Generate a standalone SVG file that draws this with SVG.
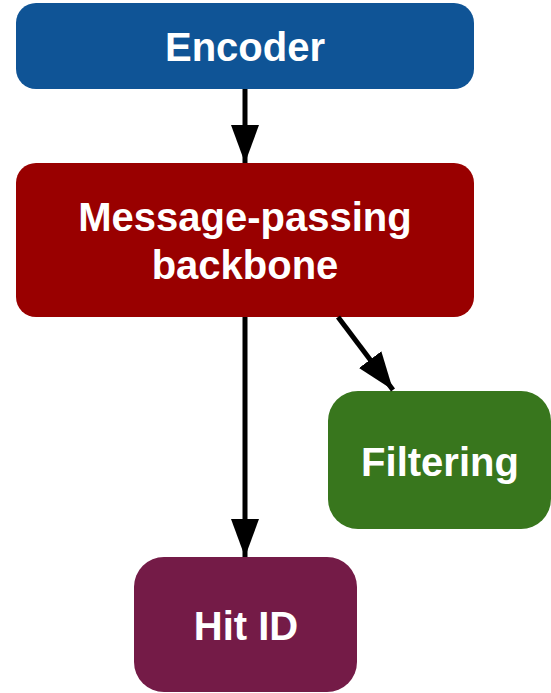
<svg xmlns="http://www.w3.org/2000/svg" width="551" height="693" viewBox="0 0 551 693">
  <style>
    .label { font-family: "Liberation Sans", Arial, sans-serif; font-weight: bold; font-size: 40px; fill: #ffffff; text-anchor: middle; }
    .edge { stroke: #000000; stroke-width: 5; fill: none; }
  </style>
  <defs>
    <marker id="head" viewBox="0 0 38 28" refX="38" refY="14" markerWidth="38" markerHeight="28" markerUnits="userSpaceOnUse" orient="auto">
      <path d="M0,0 L38,14 L0,28 Z" fill="#000000"/>
    </marker>
  </defs>

  <g id="encoder">
    <rect x="16" y="3" width="458" height="86" rx="20" fill="#0f5496"/>
    <text class="label" x="245" y="61">Encoder</text>
  </g>

  <g id="backbone">
    <rect x="16" y="163" width="458" height="154" rx="20" fill="#990000"/>
    <text class="label" x="245" y="231">Message-passing</text>
    <text class="label" x="245" y="279">backbone</text>
  </g>

  <g id="filtering">
    <rect x="328" y="391" width="223" height="138" rx="30" fill="#38761d"/>
    <text class="label" x="440" y="476">Filtering</text>
  </g>

  <g id="hitid">
    <rect x="134" y="557" width="223" height="135" rx="30" fill="#741b47"/>
    <text class="label" x="246" y="640">Hit ID</text>
  </g>

  <g id="connectors">
    <line class="edge" x1="245" y1="89" x2="245" y2="163" marker-end="url(#head)"/>
    <line class="edge" x1="245" y1="317" x2="245" y2="557" marker-end="url(#head)"/>
    <line class="edge" x1="338" y1="317" x2="393" y2="390" marker-end="url(#head)"/>
  </g>
</svg>
